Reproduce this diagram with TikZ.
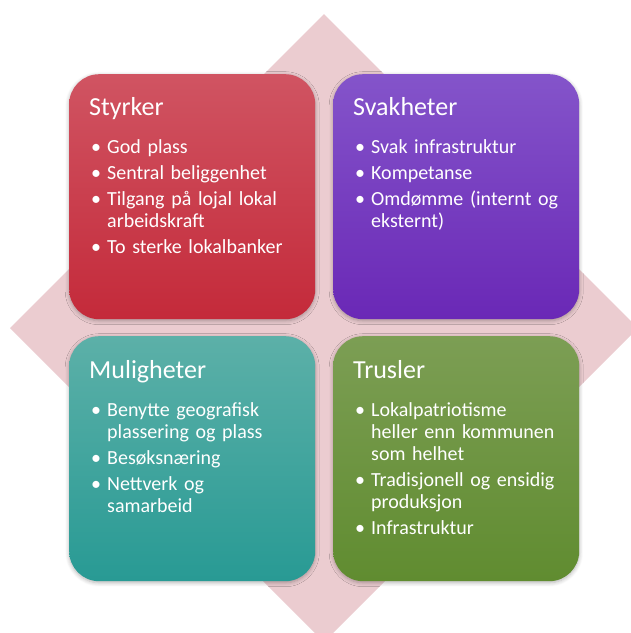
\documentclass[tikz,border=0pt]{standalone}
\usepackage{fontspec}
\setmainfont{Carlito}
\usetikzlibrary{shadows.blur}
\definecolor{diamondpink}{RGB}{235,204,208}
\definecolor{redtop}{RGB}{208,84,98}
\definecolor{redbot}{RGB}{196,42,58}
\definecolor{purtop}{RGB}{132,84,202}
\definecolor{purbot}{RGB}{106,40,182}
\definecolor{tealtop}{RGB}{92,176,168}
\definecolor{tealbot}{RGB}{40,154,148}
\definecolor{grntop}{RGB}{124,158,84}
\definecolor{grnbot}{RGB}{96,140,48}
\newcommand\swotbul[1]{\par\hangindent=16pt\hangafter=1\noindent\rule{0pt}{16pt}\makebox[16pt][l]{\textbullet}#1\par\vspace{4pt}}
\tikzset{
  x=1pt, y=1pt,
  swotbox/.style={rounded corners=30pt, minimum width=246pt, minimum height=245pt,
    inner sep=0pt, anchor=north west,
    blur shadow={shadow blur steps=6, shadow xshift=0pt, shadow yshift=-1.5pt,
      shadow opacity=30, shadow blur radius=4pt}},
  swottitle/.style={anchor=base west, text=white, inner sep=0pt,
    font=\fontsize{26}{30}\selectfont},
  swotlist/.style={anchor=north west, text=white, inner sep=0pt, text width=225pt,
    align=left, font=\fontsize{20}{22}\selectfont}
}
\begin{document}
\begin{tikzpicture}
\useasboundingbox (0,0) rectangle (631,-633);
\fill[diamondpink] (324,-14) -- (638,-328) -- (324,-642) -- (10,-328) -- cycle;

\node[swotbox, top color=redtop, bottom color=redbot] (s) at (69,-74) {};
\node[swotbox, top color=purtop, bottom color=purbot] (w) at (333,-74) {};
\node[swotbox, top color=tealtop, bottom color=tealbot] (o) at (69,-336) {};
\node[swotbox, top color=grntop, bottom color=grnbot] (t) at (333,-336) {};

\node[swottitle] (s-title) at ([shift={(20,-41)}]s.north west) {Styrker};
\node[swotlist] (s-list) at ([shift={(22,-57)}]s.north west) {%
  \swotbul{God plass}\swotbul{Sentral beliggenhet}%
  \swotbul{Tilgang på lojal lokal\newline arbeidskraft}\swotbul{To sterke lokalbanker}};

\node[swottitle] (w-title) at ([shift={(20,-41)}]w.north west) {Svakheter};
\node[swotlist] (w-list) at ([shift={(22,-57)}]w.north west) {%
  \swotbul{Svak infrastruktur}\swotbul{Kompetanse}%
  \swotbul{Omdømme (internt og\newline eksternt)}};

\node[swottitle] (o-title) at ([shift={(20,-42)}]o.north west) {Muligheter};
\node[swotlist] (o-list) at ([shift={(22,-58)}]o.north west) {%
  \swotbul{Benytte geografisk\newline plassering og plass}\swotbul{Besøksnæring}%
  \swotbul{Nettverk og\newline samarbeid}};

\node[swottitle] (t-title) at ([shift={(20,-42)}]t.north west) {Trusler};
\node[swotlist] (t-list) at ([shift={(22,-58)}]t.north west) {%
  \swotbul{Lokalpatriotisme\newline heller enn kommunen\newline som helhet}%
  \swotbul{Tradisjonell og ensidig\newline produksjon}\swotbul{Infrastruktur}};
\end{tikzpicture}
\end{document}
